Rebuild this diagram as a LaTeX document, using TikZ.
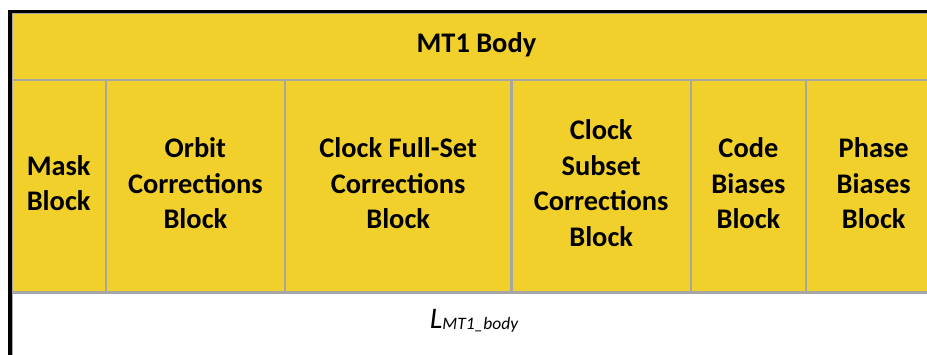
\documentclass[tikz,border=0pt]{standalone}
\usepackage{fontspec}
\setmainfont{Carlito}
\definecolor{cellyellow}{RGB}{242,208,44}
\definecolor{rulegray}{RGB}{166,166,166}
\tikzset{
  cell/.style={draw=rulegray, line width=2.8bp, fill=cellyellow, inner sep=0pt,
    anchor=north west},
  lencell/.style={cell, fill=white},
  celltext/.style={inner sep=0pt, align=center,
    font=\bfseries\fontsize{28.5}{35.5}\selectfont},
  lentext/.style={inner sep=0pt, font=\itshape\fontsize{30}{30}\selectfont},
  frame/.style={line width=3.6bp, black, line cap=rect}
}
\begin{document}
\begin{tikzpicture}[x=1bp, y=-1bp]
  \useasboundingbox (0,0) rectangle (927,354);
  \clip (0,0) rectangle (927,354);
  % header row
  \node[cell, minimum width=930bp, minimum height=67bp] (title) at (10,11.5) {};
  % block row
  \node[cell, minimum width=94.5bp,  minimum height=212.5bp] (mask)   at (10,78.5)    {};
  \node[cell, minimum width=179bp,   minimum height=212.5bp] (orbit)  at (104.5,78.5) {};
  \node[cell, minimum width=226.5bp, minimum height=212.5bp] (full)   at (283.5,78.5) {};
  \node[cell, minimum width=179.5bp, minimum height=212.5bp] (subset) at (510,78.5)   {};
  \node[cell, minimum width=115bp,   minimum height=212.5bp] (code)   at (689.5,78.5) {};
  \node[cell, minimum width=135.5bp, minimum height=212.5bp] (phase)  at (804.5,78.5) {};
  % length row
  \node[lencell, minimum width=930bp, minimum height=69bp] (len) at (10,291) {};
  % cell labels
  \node[celltext] (titletxt)  at ([yshift=2bp]title.center)  {MT1 Body};
  \node[celltext] (masktxt)   at ([yshift=3bp]mask.center)   {Mask\\Block};
  \node[celltext] (orbittxt)  at ([yshift=3bp]orbit.center)  {Orbit\\Corrections\\Block};
  \node[celltext] (fulltxt)   at ([yshift=3bp]full.center)   {Clock Full-Set\\Corrections\\Block};
  \node[celltext] (subsettxt) at ([yshift=3bp]subset.center) {Clock\\Subset\\Corrections\\Block};
  \node[celltext] (codetxt)   at ([yshift=3bp]code.center)   {Code\\Biases\\Block};
  \node[celltext] (phasetxt)  at ([yshift=3bp]phase.center)  {Phase\\Biases\\Block};
  \node[lentext] (lentxt) at (474,321)
    {L{\fontsize{17.5}{17.5}\selectfont\raisebox{-1.5bp}{MT1\_body}}};
  % outer frame
  \draw[frame] (len.south west) -- (title.north west) -- (title.north east);
\end{tikzpicture}
\end{document}
